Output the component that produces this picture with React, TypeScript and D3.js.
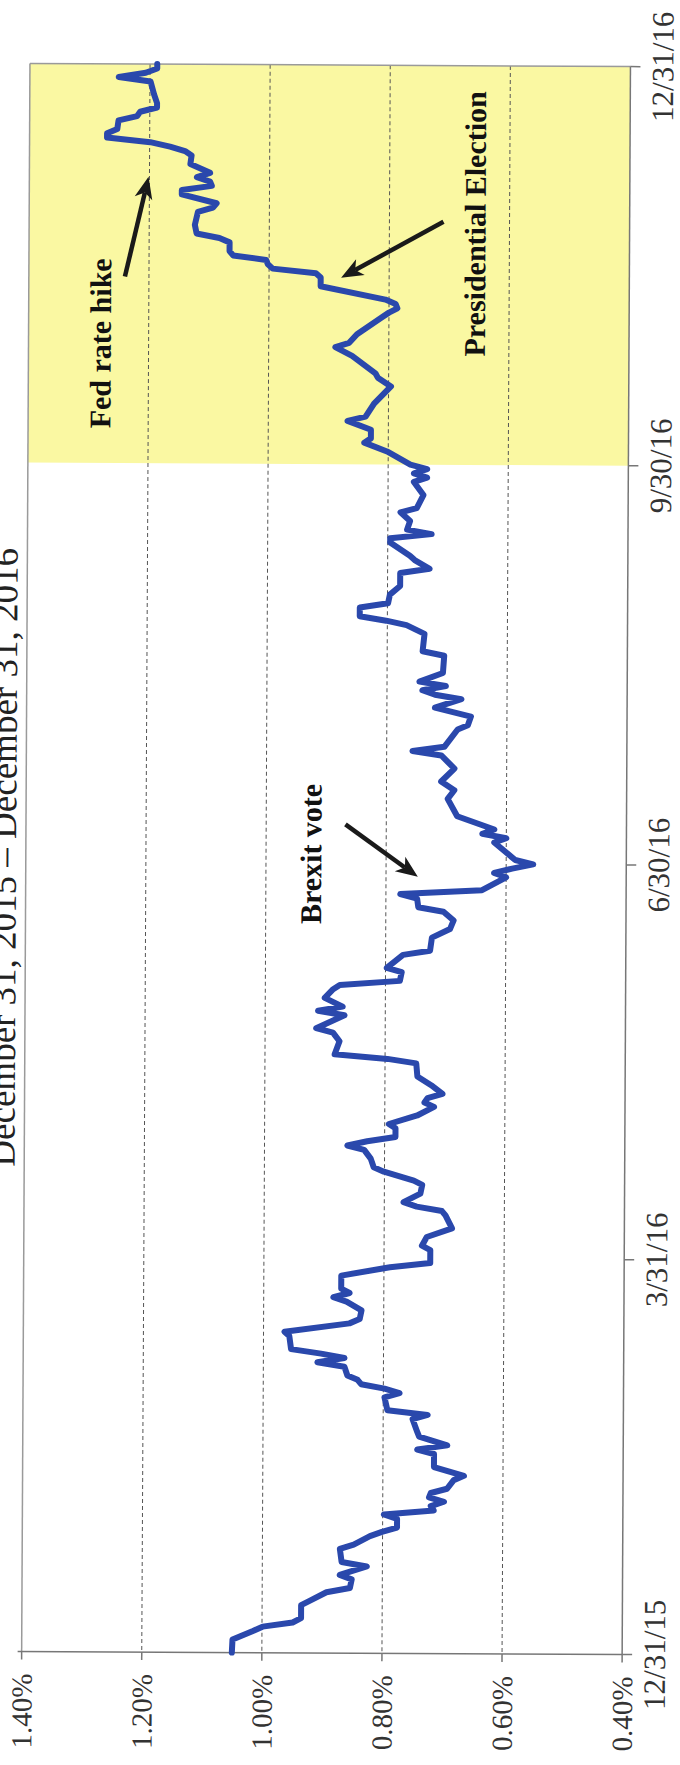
import React from "react";
import * as d3 from "d3";

const W = 680;
const H = 1765;

// Daily closing yield, 12/31/15 – 12/31/16
const dates = [
  "12/31/15", "1/3/16", "1/5/16", "1/6/16", "1/7/16", "1/8/16", "1/11/16", "1/12/16", "1/14/16", "1/15/16",
  "1/17/16", "1/18/16", "1/20/16", "1/21/16", "1/24/16", "1/25/16", "1/27/16", "1/28/16", "1/29/16", "1/31/16",
  "2/1/16", "2/2/16", "2/3/16", "2/4/16", "2/5/16", "2/6/16", "2/7/16", "2/9/16", "2/10/16", "2/12/16",
  "2/15/16", "2/16/16", "2/17/16", "2/19/16", "2/20/16", "2/23/16", "2/24/16", "2/25/16", "2/28/16", "2/29/16",
  "3/1/16", "3/2/16", "3/3/16", "3/4/16", "3/6/16", "3/7/16", "3/8/16", "3/9/16", "3/10/16", "3/13/16",
  "3/14/16", "3/16/16", "3/17/16", "3/19/16", "3/21/16", "3/22/16", "3/23/16", "3/24/16", "3/27/16", "3/29/16",
  "3/30/16", "4/2/16", "4/3/16", "4/5/16", "4/7/16", "4/10/16", "4/11/16", "4/12/16", "4/13/16", "4/15/16",
  "4/17/16", "4/18/16", "4/20/16", "4/21/16", "4/23/16", "4/25/16", "4/26/16", "4/27/16", "4/28/16", "4/30/16",
  "5/1/16", "5/3/16", "5/5/16", "5/6/16", "5/7/16", "5/8/16", "5/10/16", "5/12/16", "5/15/16", "5/16/16",
  "5/17/16", "5/20/16", "5/22/16", "5/23/16", "5/26/16", "5/27/16", "5/28/16", "5/30/16", "6/1/16", "6/2/16",
  "6/3/16", "6/5/16", "6/6/16", "6/9/16", "6/10/16", "6/13/16", "6/15/16", "6/17/16", "6/19/16", "6/20/16",
  "6/22/16", "6/23/16", "6/24/16", "6/27/16", "6/28/16", "6/29/16", "6/30/16", "7/1/16", "7/5/16", "7/6/16",
  "7/7/16", "7/8/16", "7/11/16", "7/15/16", "7/17/16", "7/19/16", "7/22/16", "7/25/16", "7/26/16", "7/27/16",
  "7/31/16", "8/1/16", "8/3/16", "8/5/16", "8/7/16", "8/8/16", "8/9/16", "8/10/16", "8/11/16", "8/13/16",
  "8/17/16", "8/18/16", "8/22/16", "8/24/16", "8/25/16", "8/26/16", "8/28/16", "8/29/16", "8/31/16", "9/2/16",
  "9/5/16", "9/6/16", "9/8/16", "9/9/16", "9/12/16", "9/13/16", "9/14/16", "9/15/16", "9/17/16", "9/19/16",
  "9/20/16", "9/23/16", "9/26/16", "9/27/16", "9/28/16", "9/29/16", "9/30/16", "10/3/16", "10/5/16", "10/6/16",
  "10/8/16", "10/10/16", "10/11/16", "10/14/16", "10/18/16", "10/20/16", "10/21/16", "10/25/16", "10/27/16", "10/28/16",
  "10/30/16", "11/3/16", "11/4/16", "11/5/16", "11/6/16", "11/7/16", "11/10/16", "11/12/16", "11/13/16", "11/14/16",
  "11/15/16", "11/16/16", "11/17/16", "11/18/16", "11/20/16", "11/21/16", "11/22/16", "11/24/16", "11/27/16", "11/28/16",
  "11/29/16", "12/1/16", "12/2/16", "12/3/16", "12/4/16", "12/5/16", "12/6/16", "12/8/16", "12/10/16", "12/11/16",
  "12/12/16", "12/13/16", "12/14/16", "12/15/16", "12/16/16", "12/18/16", "12/19/16", "12/20/16", "12/21/16", "12/22/16",
  "12/24/16", "12/27/16", "12/28/16", "12/29/16", "12/30/16", "12/31/16",
];

const yields = [
  1.05, 1.049, 1.015, 0.999, 0.949, 0.935, 0.935, 0.921, 0.893, 0.854,
  0.851, 0.871, 0.826, 0.868, 0.871, 0.848, 0.821, 0.801, 0.776, 0.776,
  0.798, 0.715, 0.72, 0.698, 0.723, 0.72, 0.693, 0.682, 0.665, 0.715,
  0.715, 0.743, 0.693, 0.74, 0.743, 0.751, 0.726, 0.793, 0.798, 0.773,
  0.798, 0.837, 0.843, 0.86, 0.865, 0.91, 0.865, 0.904, 0.954, 0.957,
  0.965, 0.857, 0.84, 0.837, 0.862, 0.884, 0.857, 0.871, 0.871, 0.79,
  0.723, 0.723, 0.737, 0.729, 0.687, 0.698, 0.704, 0.746, 0.768, 0.74,
  0.737, 0.751, 0.801, 0.818, 0.823, 0.834, 0.862, 0.829, 0.782, 0.782,
  0.793, 0.746, 0.718, 0.734, 0.729, 0.704, 0.723, 0.746, 0.748, 0.796,
  0.884, 0.876, 0.887, 0.915, 0.868, 0.912, 0.871, 0.901, 0.887, 0.876,
  0.776, 0.773, 0.798, 0.771, 0.726, 0.723, 0.693, 0.687, 0.704, 0.746,
  0.748, 0.776, 0.64, 0.6, 0.62, 0.59, 0.555, 0.585, 0.62, 0.6,
  0.64, 0.62, 0.682, 0.698, 0.687, 0.709, 0.687, 0.709, 0.757, 0.704,
  0.682, 0.665, 0.66, 0.72, 0.676, 0.72, 0.741, 0.702, 0.746, 0.707,
  0.705, 0.741, 0.738, 0.768, 0.802, 0.846, 0.846, 0.799, 0.796, 0.779,
  0.779, 0.73, 0.755, 0.763, 0.796, 0.796, 0.727, 0.768, 0.763, 0.779,
  0.752, 0.741, 0.757, 0.735, 0.757, 0.735, 0.763, 0.802, 0.84, 0.829,
  0.829, 0.868, 0.838, 0.824, 0.796, 0.818, 0.822, 0.861, 0.889, 0.866,
  0.853, 0.811, 0.8, 0.786, 0.789, 0.806, 0.914, 0.914, 0.922, 0.994,
  1.002, 1.005, 1.06, 1.066, 1.066, 1.083, 1.121, 1.124, 1.119, 1.094,
  1.088, 1.146, 1.146, 1.096, 1.099, 1.121, 1.099, 1.132, 1.13, 1.141,
  1.166, 1.199, 1.271, 1.271, 1.254, 1.252, 1.221, 1.216, 1.188, 1.188,
  1.193, 1.199, 1.252, 1.207, 1.188, 1.188,
];

const dateTicks = ["12/31/15", "3/31/16", "6/30/16", "9/30/16", "12/31/16"];
const yieldTicks = [1.4, 1.2, 1.0, 0.8, 0.6, 0.4];
const gridValues = [1.2, 1.0, 0.8, 0.6];
const highlightFrom = "9/30/16";
const highlightTo = "12/31/16";
const titleText = "December 31, 2015 \u2013 December 31, 2016";

// Event labels, anchored at (date, yield)
const eventLabels = [
  { text: "Fed rate hike", date: "10/8/16", value: 1.263 },
  { text: "Presidential Election", date: "10/25/16", value: 0.64 },
  { text: "Brexit vote", date: "6/16/16", value: 0.908 },
];

// Pointer arrows, tail -> head in (date, yield)
const eventArrows = [
  { fromDate: "11/12/16", fromValue: 1.24, toDate: "12/5/16", toValue: 1.2015 },
  { fromDate: "11/25/16", fromValue: 0.71, toDate: "11/12/16", toValue: 0.88 },
  { fromDate: "7/9/16", fromValue: 0.868, toDate: "6/27/16", toValue: 0.747 },
];

const parseDate = d3.timeParse("%m/%d/%y");
const fmtPct = (v: number) => v.toFixed(2) + "%";

export default function App() {
  const plot = { left: 25.8, right: 626.3, top: 65, bottom: 1653 };

  const x = d3.scaleLinear().domain([1.4, 0.4]).range([plot.left, plot.right]);
  const y = d3
    .scaleTime()
    .domain([parseDate("12/31/15") as Date, parseDate("12/31/16") as Date])
    .range([plot.bottom, plot.top]);

  const series: [Date, number][] = dates.map((d, i) => [parseDate(d) as Date, yields[i]]);
  const linePath = d3
    .line<[Date, number]>()
    .x((d) => x(d[1]))
    .y((d) => y(d[0]))(series);

  const hiTop = y(parseDate(highlightTo) as Date);
  const hiBottom = y(parseDate(highlightFrom) as Date);

  const cx = (plot.left + plot.right) / 2;
  const cy = (plot.top + plot.bottom) / 2;

  const labelFont = "'Liberation Serif', 'Times New Roman', serif";

  const arrowShapes = eventArrows.map((a) => {
    const x0 = x(a.fromValue);
    const y0 = y(parseDate(a.fromDate) as Date);
    const x1 = x(a.toValue);
    const y1 = y(parseDate(a.toDate) as Date);
    const dx = x1 - x0;
    const dy = y1 - y0;
    const len = Math.hypot(dx, dy);
    const ux = dx / len;
    const uy = dy / len;
    const nx = -uy;
    const ny = ux;
    const headLen = 22;
    const headHalf = 9;
    const notch = 6;
    const bx = x1 - ux * headLen;
    const by = y1 - uy * headLen;
    const head = [
      [x1, y1],
      [bx + nx * headHalf, by + ny * headHalf],
      [bx + ux * notch, by + uy * notch],
      [bx - nx * headHalf, by - ny * headHalf],
    ]
      .map((p) => p.join(","))
      .join(" ");
    return { x0, y0, lx: bx + ux * notch, ly: by + uy * notch, head };
  });

  return (
    <svg
      width={W}
      height={H}
      viewBox={`0 0 ${W} ${H}`}
      style={{ position: "absolute", left: 0, top: 0, display: "block", background: "#fff" }}
    >
      <rect x={0} y={0} width={W} height={H} fill="#ffffff" />
      <g transform={`rotate(0.3 ${cx} ${cy})`}>
        {/* title, rotated with the page */}
        <text
          transform={`translate(16, ${cy}) rotate(-90)`}
          textAnchor="middle"
          fontFamily={labelFont}
          fontSize={37}
          fill="#222"
        >
          {titleText}
        </text>

        {/* post-September shading */}
        <rect
          x={plot.left}
          y={hiTop}
          width={plot.right - plot.left}
          height={hiBottom - hiTop}
          fill="#FAF8A2"
        />

        {/* dashed gridlines */}
        {gridValues.map((v) => (
          <line
            key={"g" + v}
            x1={x(v)}
            x2={x(v)}
            y1={plot.top}
            y2={plot.bottom}
            stroke="#555"
            strokeWidth={1}
            strokeDasharray="4,3"
          />
        ))}

        {/* frame */}
        <line x1={plot.left} x2={plot.left} y1={plot.top} y2={plot.bottom} stroke="#9a9a9a" strokeWidth={1.5} />
        <line x1={plot.left} x2={plot.right} y1={plot.top} y2={plot.top} stroke="#9a9a9a" strokeWidth={1.5} />
        <line x1={plot.right} x2={plot.right} y1={plot.top} y2={plot.bottom} stroke="#777" strokeWidth={1.5} />
        <line x1={plot.left - 4} x2={plot.right} y1={plot.bottom} y2={plot.bottom} stroke="#777" strokeWidth={1.5} />

        {/* yield axis ticks + labels */}
        {yieldTicks.map((v) => (
          <g key={"yt" + v}>
            <line x1={x(v)} x2={x(v)} y1={plot.bottom} y2={plot.bottom + 8} stroke="#777" strokeWidth={1.5} />
            <text
              transform={`translate(${x(v)}, ${plot.bottom + 22}) rotate(-90)`}
              textAnchor="end"
              dy="0.35em"
              fontFamily={labelFont}
              fontSize={29}
              fill="#333"
            >
              {fmtPct(v)}
            </text>
          </g>
        ))}

        {/* date axis ticks + labels */}
        {dateTicks.map((d) => {
          const yy = y(parseDate(d) as Date);
          return (
            <g key={"dt" + d}>
              <line x1={plot.right} x2={plot.right + 10} y1={yy} y2={yy} stroke="#777" strokeWidth={1.5} />
              <text
                transform={`translate(${plot.right + 32}, ${yy}) rotate(-90)`}
                textAnchor="middle"
                dy="0.35em"
                fontFamily={labelFont}
                fontSize={31}
                fill="#333"
              >
                {d}
              </text>
            </g>
          );
        })}

        {/* yield line */}
        <path
          d={linePath || ""}
          fill="none"
          stroke="#2A48AC"
          strokeWidth={6}
          strokeLinejoin="round"
          strokeLinecap="round"
        />

        {/* event annotations */}
        {eventLabels.map((l) => (
          <text
            key={l.text}
            transform={`translate(${x(l.value)}, ${y(parseDate(l.date) as Date)}) rotate(-90)`}
            textAnchor="start"
            fontFamily={labelFont}
            fontWeight="bold"
            fontSize={30}
            fill="#111"
          >
            {l.text}
          </text>
        ))}
        {arrowShapes.map((a, i) => (
          <g key={"ar" + i}>
            <line x1={a.x0} y1={a.y0} x2={a.lx} y2={a.ly} stroke="#1a1a1a" strokeWidth={4.5} />
            <polygon points={a.head} fill="#1a1a1a" />
          </g>
        ))}
      </g>
    </svg>
  );
}
